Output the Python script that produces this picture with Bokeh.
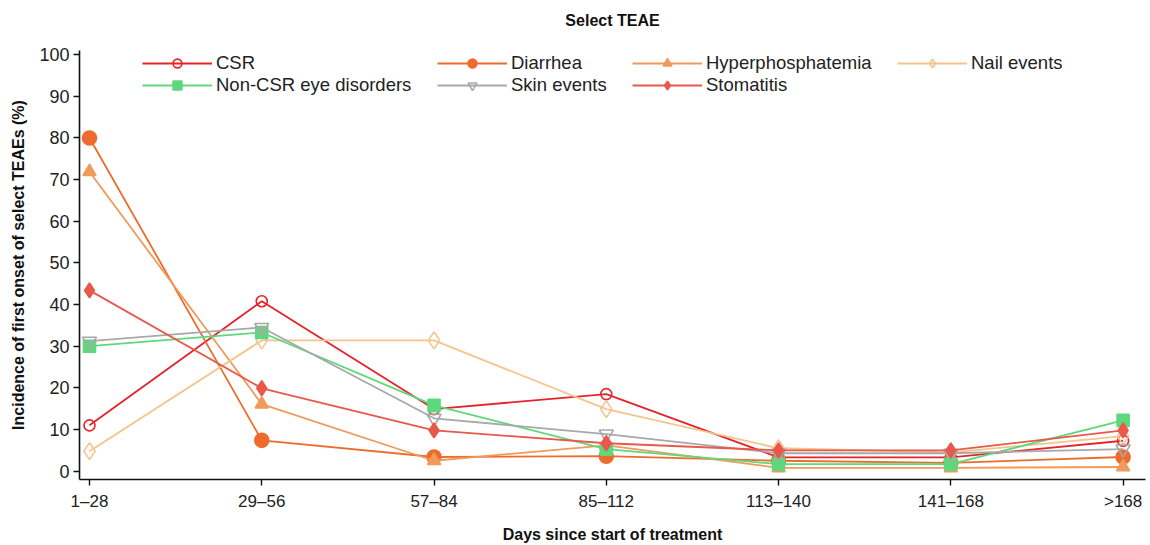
from bokeh.plotting import figure
from bokeh.models import Legend, LegendItem, FixedTicker, Title
from bokeh.embed import file_html
from bokeh.resources import INLINE

categories = ["1\u201328", "29\u201356", "57\u201384", "85\u2013112", "113\u2013140", "141\u2013168", ">168"]
y_ticks = [0, 10, 20, 30, 40, 50, 60, 70, 80, 90, 100]

csr = [11.0, 40.8, 14.9, 18.5, 3.3, 3.3, 7.3]
diarrhea = [80.0, 7.4, 3.4, 3.6, 2.5, 2.0, 3.4]
hyperphosphatemia = [71.9, 16.1, 2.5, 6.2, 0.8, 0.8, 1.0]
nail_events = [4.8, 31.4, 31.4, 14.9, 5.5, 4.5, 8.4]
non_csr_eye = [30.0, 33.3, 15.8, 5.3, 1.7, 1.7, 12.2]
skin_events = [31.2, 34.5, 12.7, 8.9, 4.3, 4.3, 5.3]
stomatitis = [43.4, 19.9, 9.8, 6.7, 5.0, 5.0, 9.8]

FONT = "Liberation Sans"
x = list(range(len(categories)))

p = figure(width=1150, height=545, output_backend="svg", toolbar_location=None,
           x_range=(-0.058, 6.13), y_range=(-2, 101),
           min_border_left=79, min_border_right=5, min_border_top=50, min_border_bottom=66)
p.outline_line_color = None
p.xgrid.visible = False
p.ygrid.visible = False

t = Title(text="Select TEAE", align="center", vertical_align="top",
          text_font=FONT, text_font_size="16px", text_font_style="bold", text_color="#111111",
          offset=0, standoff=0, padding=(0, 0, 0, 20))
p.add_layout(t, "above")

for ax in (p.xaxis[0], p.yaxis[0]):
    ax.axis_line_color = "#111111"
    ax.axis_line_width = 1.6
    ax.major_tick_line_color = "#111111"
    ax.major_tick_line_width = 1.4
    ax.major_tick_out = 6
    ax.major_tick_in = 0
    ax.minor_tick_line_color = None
    ax.major_label_text_font = FONT
    ax.major_label_text_font_size = "17px"
    ax.major_label_text_color = "#222222"
    ax.axis_label_text_font = FONT
    ax.axis_label_text_font_size = "16px"
    ax.axis_label_text_font_style = "bold"
    ax.axis_label_text_color = "#111111"

p.yaxis.major_label_text_font_size = "18px"
p.xaxis.ticker = FixedTicker(ticks=x)
p.xaxis.major_label_overrides = {i: c for i, c in enumerate(categories)}
p.xaxis.major_label_standoff = 6
p.xaxis.axis_label = "Days since start of treatment"
p.xaxis.axis_label_standoff = 12
p.yaxis.ticker = FixedTicker(ticks=y_ticks)
p.yaxis.major_label_standoff = 4
p.yaxis.axis_label = "Incidence of first onset of select TEAEs (%)"
p.yaxis.axis_label_standoff = 9

series = [
    ("CSR", csr, "#E3242B", "circle", 11, False),
    ("Diarrhea", diarrhea, "#EE6C2B", "circle", 14, True),
    ("Hyperphosphatemia", hyperphosphatemia, "#F09A5B", "triangle", 13, True),
    ("Nail events", nail_events, "#F5C48C", "diamond", 17, False),
    ("Non-CSR eye disorders", non_csr_eye, "#5ED87C", "square", 12, True),
    ("Skin events", skin_events, "#A8A8A8", "inverted_triangle", 14, False),
    ("Stomatitis", stomatitis, "#E8584B", "diamond", 15, True),
]

renderers = {}
for name, ys, col, mk, sz, filled in series:
    l = p.line(x, ys, line_color=col, line_width=1.8)
    s = p.scatter(x, ys, marker=mk, size=sz, line_color=col, line_width=1.6,
                  fill_color=col if filled else "white", fill_alpha=1.0 if filled else 0.0)
    renderers[name] = [l, s]

# legend laid out in 4 columns, 2 rows (row-major order of the reference)
legend_columns = [
    (["CSR", "Non-CSR eye disorders"], 63),
    (["Diarrhea", "Skin events"], 358),
    (["Hyperphosphatemia", "Stomatitis"], 553),
    (["Nail events"], 818),
]
GH, FRAME_H, TOP_GAP = 22, 429, 2
for names, lx in legend_columns:
    items = [LegendItem(label=n, renderers=renderers[n]) for n in names]
    h = GH * len(names)
    lg = Legend(items=items, orientation="vertical",
                location=(lx, FRAME_H - TOP_GAP - h), glyph_width=70, glyph_height=GH,
                label_height=GH, label_standoff=4, spacing=0, padding=0, margin=0,
                label_text_font=FONT, label_text_font_size="18.5px", label_text_color="#222222",
                border_line_alpha=0, background_fill_alpha=0)
    p.add_layout(lg, "center")

open("out.html", "w").write(file_html(p, INLINE))
